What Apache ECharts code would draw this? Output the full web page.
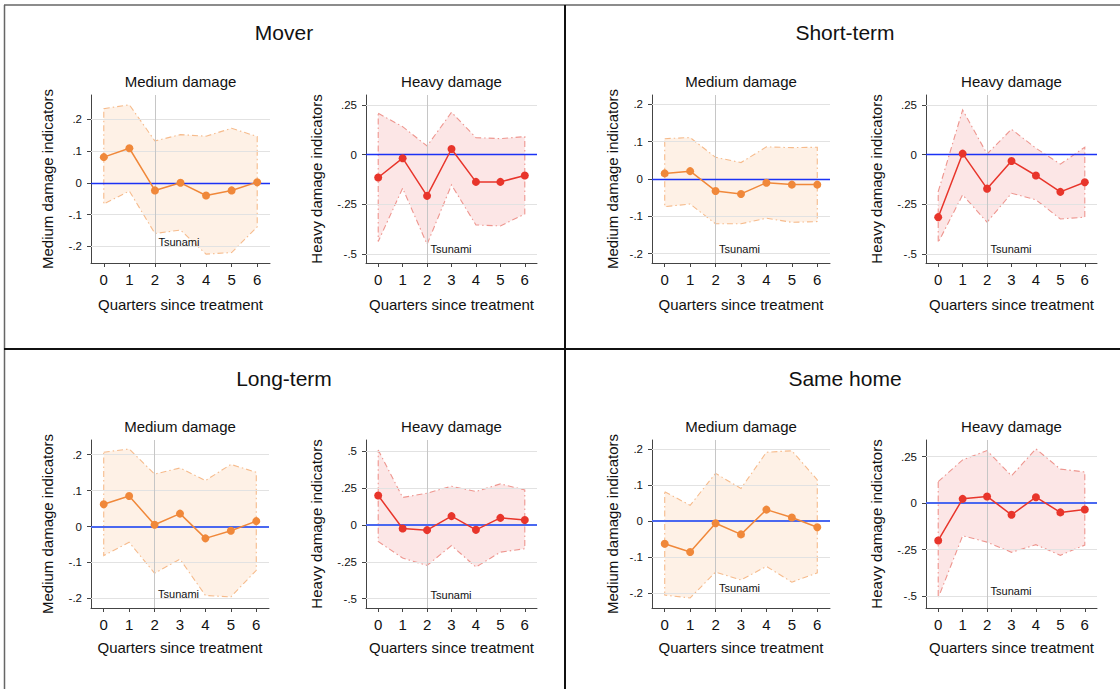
<!DOCTYPE html>
<html>
<head>
<meta charset="UTF-8">
<title>Damage indicators by quarter</title>
<script src="https://cdn.jsdelivr.net/npm/echarts@6.0.0/dist/echarts.min.js"></script>
<style>
  html, body { margin: 0; padding: 0; background: #fff; }
  #chart { width: 1120px; height: 689px; }
</style>
</head>
<body>
<div id="chart"></div>
<script>
// x axis: quarters since treatment, tsunami at quarter 2
var quarters = [0, 1, 2, 3, 4, 5, 6];
var tsunamiQuarter = 2;

// y tick labels
var medTicks = [-0.2, -0.1, 0, 0.1, 0.2];
var heavyTicks = [-0.5, -0.25, 0, 0.25];
var heavyTicksWide = [-0.5, -0.25, 0, 0.25, 0.5];

// Mover
var moverMed     = [0.081, 0.109, -0.024, 0.000, -0.040, -0.024, 0.002];
var moverMedLo   = [-0.067, -0.026, -0.160, -0.149, -0.225, -0.220, -0.139];
var moverMedHi   = [0.234, 0.246, 0.132, 0.152, 0.147, 0.172, 0.146];
var moverHeavy   = [-0.115, -0.018, -0.207, 0.028, -0.137, -0.137, -0.105];
var moverHeavyLo = [-0.436, -0.169, -0.450, -0.152, -0.353, -0.358, -0.298];
var moverHeavyHi = [0.207, 0.140, 0.043, 0.212, 0.085, 0.080, 0.090];

// Short-term
var shortMed     = [0.015, 0.021, -0.032, -0.040, -0.010, -0.015, -0.015];
var shortMedLo   = [-0.074, -0.067, -0.120, -0.120, -0.105, -0.116, -0.114];
var shortMedHi   = [0.108, 0.111, 0.058, 0.044, 0.086, 0.084, 0.085];
var shortHeavy   = [-0.314, 0.005, -0.171, -0.032, -0.105, -0.187, -0.139];
var shortHeavyLo = [-0.441, -0.202, -0.339, -0.194, -0.227, -0.323, -0.314];
var shortHeavyHi = [-0.186, 0.224, 0.003, 0.127, 0.032, -0.048, 0.037];

// Long-term
var longMed      = [0.062, 0.085, 0.005, 0.036, -0.033, -0.012, 0.015];
var longMedLo    = [-0.081, -0.044, -0.130, -0.091, -0.192, -0.196, -0.122];
var longMedHi    = [0.207, 0.216, 0.146, 0.163, 0.128, 0.173, 0.151];
var longHeavy    = [0.198, -0.025, -0.036, 0.059, -0.034, 0.047, 0.032];
var longHeavyLo  = [-0.113, -0.225, -0.275, -0.140, -0.286, -0.185, -0.162];
var longHeavyHi  = [0.507, 0.185, 0.214, 0.261, 0.225, 0.277, 0.236];

// Same home
var sameMed      = [-0.063, -0.086, -0.006, -0.037, 0.032, 0.010, -0.017];
var sameMedLo    = [-0.206, -0.214, -0.142, -0.164, -0.126, -0.170, -0.144];
var sameMedHi    = [0.082, 0.044, 0.133, 0.091, 0.192, 0.196, 0.115];
var sameHeavy    = [-0.201, 0.023, 0.036, -0.063, 0.032, -0.050, -0.034];
var sameHeavyLo  = [-0.511, -0.176, -0.210, -0.265, -0.224, -0.281, -0.226];
var sameHeavyHi  = [0.116, 0.233, 0.283, 0.147, 0.292, 0.183, 0.168];

var FONT = 'Liberation Sans, Arial, Helvetica, sans-serif';

var kinds = {
  med:   { title: 'Medium damage', yName: 'Medium damage indicators', line: '#f0883a',
           fill: 'rgba(245,150,60,0.13)', edge: '#f6bb8c', labelY: -0.187 },
  heavy: { title: 'Heavy damage', yName: 'Heavy damage indicators', line: '#e8352b',
           fill: 'rgba(235,60,60,0.13)', edge: '#ee968f', labelY: -0.475 }
};

// one entry per small plot
var plots = [
  { kind: 'med',   pt: moverMed,   lo: moverMedLo,   hi: moverMedHi,   ticks: medTicks,       left: 91,  top: 95,  width: 179, min: -0.253, max: 0.277, gap: 36 },
  { kind: 'heavy', pt: moverHeavy, lo: moverHeavyLo, hi: moverHeavyHi, ticks: heavyTicks,     left: 366, top: 95,  width: 171, min: -0.544, max: 0.299, gap: 42 },
  { kind: 'med',   pt: shortMed,   lo: shortMedLo,   hi: shortMedHi,   ticks: medTicks,       left: 652, top: 95,  width: 178, min: -0.225, max: 0.225, gap: 32.5 },
  { kind: 'heavy', pt: shortHeavy, lo: shortHeavyLo, hi: shortHeavyHi, ticks: heavyTicks,     left: 926, top: 95,  width: 171, min: -0.544, max: 0.299, gap: 42 },
  { kind: 'med',   pt: longMed,    lo: longMedLo,    hi: longMedHi,    ticks: medTicks,       left: 91,  top: 440, width: 178, min: -0.227, max: 0.241, gap: 36 },
  { kind: 'heavy', pt: longHeavy,  lo: longHeavyLo,  hi: longHeavyHi,  ticks: heavyTicksWide, left: 366, top: 440, width: 171, min: -0.563, max: 0.574, gap: 42 },
  { kind: 'med',   pt: sameMed,    lo: sameMedLo,    hi: sameMedHi,    ticks: medTicks,       left: 652, top: 440, width: 178, min: -0.242, max: 0.226, gap: 32.5 },
  { kind: 'heavy', pt: sameHeavy,  lo: sameHeavyLo,  hi: sameHeavyHi,  ticks: heavyTicks,     left: 926, top: 440, width: 171, min: -0.565, max: 0.340, gap: 42 }
];
var plotHeight = 168;

var panelTitles = [
  { text: 'Mover',      x: 284, y: 22 },
  { text: 'Short-term', x: 845, y: 22 },
  { text: 'Long-term',  x: 284, y: 368 },
  { text: 'Same home',  x: 845, y: 368 }
];

function tickFormat(v) {
  if (Math.abs(v) < 1e-9) return '0';
  return String(v).replace('0.', '.');
}

function bandRenderer(lo, hi, k) {
  return function (params, api) {
    if (params.dataIndex !== 0) return null;
    var pts = [];
    for (var i = 0; i < quarters.length; i++) pts.push(api.coord([quarters[i], hi[i]]));
    for (var j = quarters.length - 1; j >= 0; j--) pts.push(api.coord([quarters[j], lo[j]]));
    return {
      type: 'polygon',
      shape: { points: pts },
      style: { fill: k.fill, stroke: k.edge, lineWidth: 1.1, lineDash: [6, 3, 1.5, 3] }
    };
  };
}

var grids = [], xAxes = [], yAxes = [], series = [], titles = [];

panelTitles.forEach(function (t) {
  titles.push({ text: t.text, left: t.x, top: t.y, textAlign: 'center', padding: 0,
    textStyle: { fontSize: 21, fontWeight: 'normal', color: '#111', fontFamily: FONT } });
});

plots.forEach(function (p, i) {
  var k = kinds[p.kind];
  var bottomRow = p.top > 300;
  grids.push({ left: p.left, top: p.top, width: p.width, height: plotHeight,
    containLabel: false, outerBoundsMode: 'none' });
  titles.push({ text: k.title, left: p.left + p.width / 2, top: p.top - 21, textAlign: 'center', padding: 0,
    textStyle: { fontSize: 15, fontWeight: 'normal', color: '#111', fontFamily: FONT } });

  xAxes.push({
    gridIndex: i, type: 'value', min: -0.5, max: 6.5,
    name: 'Quarters since treatment', nameLocation: 'middle', nameGap: bottomRow ? 32 : 34,
    nameTextStyle: { fontSize: 15, color: '#111', fontFamily: FONT },
    axisLine: { show: true, onZero: false, lineStyle: { color: '#444', width: 1 } },
    axisTick: { show: true, customValues: quarters, length: 4, lineStyle: { color: '#444' } },
    axisLabel: { customValues: quarters, margin: 9, fontSize: 15, color: '#111', fontFamily: FONT },
    splitLine: { show: false }
  });
  yAxes.push({
    gridIndex: i, type: 'value', min: p.min, max: p.max,
    name: k.yName, nameLocation: 'middle', nameGap: p.gap,
    nameTextStyle: { fontSize: 15, color: '#111', fontFamily: FONT },
    axisLine: { show: true, onZero: false, lineStyle: { color: '#444', width: 1 } },
    axisTick: { show: true, customValues: p.ticks, length: 4, lineStyle: { color: '#444' } },
    axisLabel: { customValues: p.ticks, margin: 9, fontSize: 11.5, color: '#111', fontFamily: FONT, formatter: tickFormat },
    splitLine: { show: false }
  });

  var pts = quarters.map(function (q, j) { return [q, p.pt[j]]; });

  // grid lines + tsunami line
  var gl = p.ticks.map(function (v) { return { yAxis: v }; });
  gl.push({ xAxis: tsunamiQuarter, lineStyle: { color: '#c6c6c6', width: 1, type: 'solid' } });
  series.push({
    type: 'line', xAxisIndex: i, yAxisIndex: i, data: pts, symbol: 'none',
    lineStyle: { opacity: 0 }, silent: true, z: 1,
    markLine: { symbol: ['none', 'none'], silent: true, animation: false, label: { show: false },
      lineStyle: { color: '#e2e2e2', width: 1, type: 'solid' }, data: gl }
  });

  // confidence band
  series.push({
    type: 'custom', xAxisIndex: i, yAxisIndex: i, silent: true, z: 2,
    data: quarters.map(function (q, j) { return [q, p.lo[j], p.hi[j]]; }),
    encode: { x: 0, y: [1, 2] },
    renderItem: bandRenderer(p.lo, p.hi, k)
  });

  // zero line and label
  series.push({
    type: 'line', xAxisIndex: i, yAxisIndex: i, data: pts, symbol: 'none',
    lineStyle: { opacity: 0 }, silent: true, z: 3,
    markLine: { symbol: ['none', 'none'], silent: true, animation: false, label: { show: false },
      lineStyle: { color: bottomRow ? '#4a68f0' : '#1b32f5', width: bottomRow ? 2.2 : 1.3, type: 'solid' },
      data: [{ yAxis: 0 }] },
    markPoint: { silent: true, animation: false,
      data: [{ coord: [tsunamiQuarter, k.labelY], symbol: 'rect', symbolSize: 1,
        itemStyle: { color: 'rgba(0,0,0,0)' },
        label: { show: true, position: 'right', distance: 3, formatter: 'Tsunami',
          color: '#111', fontSize: 11, fontFamily: FONT } }] }
  });

  // point estimates
  series.push({
    type: 'line', xAxisIndex: i, yAxisIndex: i, data: pts, z: 5,
    symbol: 'circle', symbolSize: 8, showSymbol: true,
    lineStyle: { color: k.line, width: 1.5 }, itemStyle: { color: k.line }
  });
});

var chart = echarts.init(document.getElementById('chart'), null, { renderer: 'svg' });
chart.setOption({
  animation: false,
  backgroundColor: '#fff',
  textStyle: { fontFamily: FONT },
  title: titles,
  grid: grids,
  xAxis: xAxes,
  yAxis: yAxes,
  series: series,
  graphic: [
    { type: 'line', shape: { x1: 4, y1: 5, x2: 1120, y2: 5 }, style: { stroke: '#666', lineWidth: 1.5 }, silent: true },
    { type: 'line', shape: { x1: 4.5, y1: 5, x2: 4.5, y2: 689 }, style: { stroke: '#666', lineWidth: 1.5 }, silent: true },
    { type: 'line', shape: { x1: 4, y1: 349, x2: 1120, y2: 349 }, style: { stroke: '#111', lineWidth: 2 }, silent: true },
    { type: 'line', shape: { x1: 565, y1: 5, x2: 565, y2: 689 }, style: { stroke: '#111', lineWidth: 2 }, silent: true }
  ]
});
</script>
</body>
</html>
